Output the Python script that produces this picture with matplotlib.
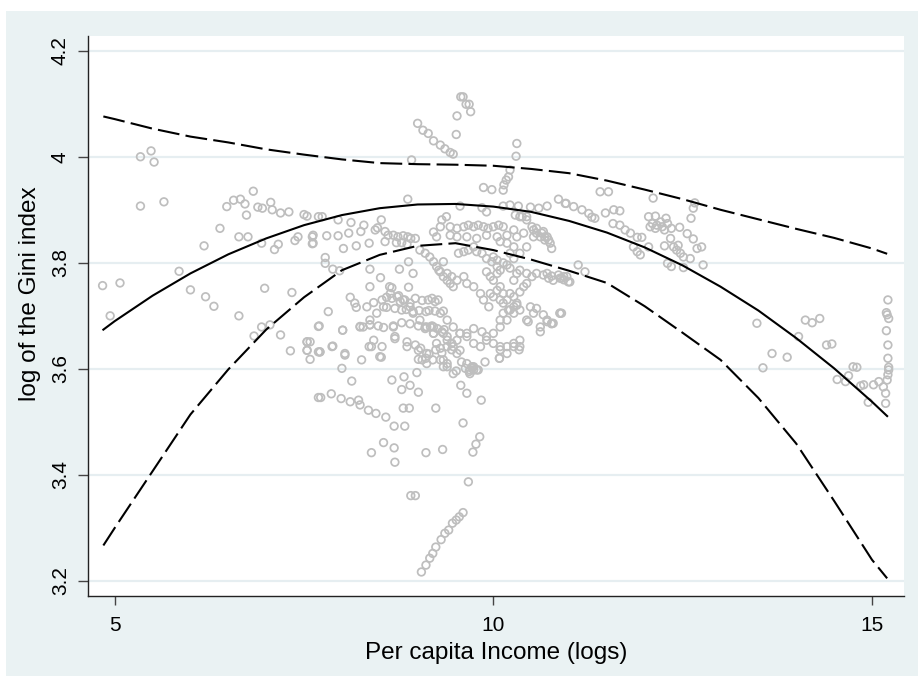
import matplotlib
matplotlib.use("Agg")
import matplotlib.pyplot as plt
from matplotlib.patches import Rectangle

plt.rcParams['font.family'] = ['Liberation Sans', 'DejaVu Sans']

# ---- observations: (log per-capita income, log Gini) ----
low_income = [
    (5.34, 4.000), (5.48, 4.011), (5.52, 3.990), (5.34, 3.907), (5.65, 3.915),
    (4.84, 3.757), (5.07, 3.762), (4.94, 3.700), (5.85, 3.784), (6.00, 3.749),
    (6.20, 3.736), (6.31, 3.718), (6.18, 3.832), (6.39, 3.865), (6.48, 3.906),
    (6.57, 3.918), (6.66, 3.920), (6.72, 3.911), (6.83, 3.935), (6.74, 3.890),
    (6.64, 3.849), (6.76, 3.849), (6.89, 3.905), (6.95, 3.903), (7.06, 3.914),
    (7.08, 3.900), (7.19, 3.894), (7.30, 3.896), (7.50, 3.891), (7.54, 3.888),
    (6.94, 3.837), (7.11, 3.825), (7.16, 3.835), (7.38, 3.842), (7.42, 3.849),
    (7.61, 3.849), (7.61, 3.836), (6.98, 3.752), (7.34, 3.744), (6.64, 3.700),
    (6.84, 3.662), (6.94, 3.679), (7.05, 3.683), (7.19, 3.664), (7.54, 3.651),
    (7.32, 3.634), (7.54, 3.635), (7.58, 3.618), (7.69, 3.680), (7.69, 3.632),
    (7.69, 3.546), (7.69, 3.887),
]

lower_middle = [
    (8.87, 3.920), (7.74, 3.887), (7.95, 3.881), (8.12, 3.876), (8.29, 3.871),
    (8.52, 3.881), (8.44, 3.862), (8.47, 3.866), (7.62, 3.852), (7.62, 3.837),
    (7.80, 3.851), (7.95, 3.851), (8.09, 3.856), (8.25, 3.859), (8.02, 3.827),
    (8.19, 3.832), (8.36, 3.837), (8.57, 3.859), (8.61, 3.852), (8.57, 3.840),
    (8.68, 3.852), (8.74, 3.849), (8.81, 3.851), (8.87, 3.849), (8.91, 3.846),
    (8.97, 3.846), (8.72, 3.838), (8.79, 3.838), (8.86, 3.835), (7.78, 3.810),
    (7.78, 3.799), (7.88, 3.788), (7.97, 3.785), (8.37, 3.788), (8.51, 3.772),
    (8.37, 3.755), (8.63, 3.755), (8.66, 3.753), (8.76, 3.788), (8.88, 3.802),
    (8.94, 3.780), (8.88, 3.754), (8.11, 3.735), (8.17, 3.724), (8.19, 3.716),
    (8.33, 3.717), (8.42, 3.725), (8.53, 3.730), (8.59, 3.735), (8.66, 3.733),
    (8.75, 3.738), (8.77, 3.727), (8.83, 3.730), (8.90, 3.724), (8.97, 3.733),
    (9.06, 3.729), (9.14, 3.730), (9.19, 3.733), (9.23, 3.727), (9.27, 3.730),
    (8.59, 3.716), (8.70, 3.714), (8.79, 3.711), (8.85, 3.712), (8.94, 3.708),
    (9.02, 3.710), (9.11, 3.708), (9.15, 3.710), (9.23, 3.709), (9.34, 3.709),
    (7.82, 3.708), (7.70, 3.681), (8.01, 3.673), (8.24, 3.680), (8.37, 3.683),
    (8.48, 3.681), (8.55, 3.678), (8.68, 3.681), (8.79, 3.687), (8.90, 3.685),
    (9.01, 3.681), (9.10, 3.679), (9.19, 3.681), (9.26, 3.676), (9.35, 3.674),
    (7.58, 3.651), (7.71, 3.632), (7.88, 3.643), (8.04, 3.629), (8.26, 3.617),
    (8.36, 3.642), (8.42, 3.654), (8.53, 3.642), (8.52, 3.622), (8.70, 3.661),
    (8.86, 3.651), (8.97, 3.645), (9.04, 3.639), (9.15, 3.628), (9.11, 3.620),
    (9.20, 3.617), (9.24, 3.636), (9.32, 3.630), (8.00, 3.601), (8.13, 3.577),
    (8.66, 3.579), (8.79, 3.561), (8.82, 3.585), (8.90, 3.569), (8.99, 3.593),
    (9.01, 3.556), (7.72, 3.546), (7.86, 3.553), (7.99, 3.544), (8.11, 3.538),
    (8.22, 3.541), (8.24, 3.532), (8.35, 3.522), (8.45, 3.516), (8.58, 3.509),
    (8.69, 3.492), (8.83, 3.492), (8.81, 3.526), (8.89, 3.526), (9.24, 3.526),
    (8.55, 3.461), (8.39, 3.442), (8.69, 3.451), (8.70, 3.424), (9.11, 3.442),
    (9.33, 3.448), (7.54, 3.651), (7.54, 3.635), (7.71, 3.632), (7.87, 3.642),
    (8.01, 3.673), (8.04, 3.626), (8.24, 3.679), (8.37, 3.683), (8.39, 3.642),
    (8.50, 3.623), (8.68, 3.679), (8.70, 3.657), (8.86, 3.642), (9.01, 3.635),
    (9.12, 3.629), (9.30, 3.617), (9.39, 3.604), (9.47, 3.591),
]

lower_tail = [
    (9.57, 3.569), (9.65, 3.554), (9.84, 3.541), (9.60, 3.498), (9.82, 3.472),
    (9.77, 3.458), (9.73, 3.443), (9.67, 3.387), (8.91, 3.361), (8.97, 3.361),
    (9.60, 3.329), (9.55, 3.321), (9.51, 3.315), (9.46, 3.309), (9.41, 3.296),
    (9.36, 3.290), (9.31, 3.278), (9.24, 3.264), (9.20, 3.252), (9.16, 3.243),
    (9.11, 3.230), (9.05, 3.217),
]

upper_spikes = [
    (9.57, 4.113), (9.60, 4.113), (9.64, 4.099), (9.68, 4.099), (9.70, 4.085),
    (9.52, 4.077), (9.51, 4.042), (9.00, 4.063), (9.07, 4.050), (9.14, 4.044),
    (9.21, 4.030), (9.30, 4.022), (9.36, 4.015), (9.43, 4.008), (9.47, 4.005),
    (8.92, 3.994), (10.31, 4.025), (10.30, 4.001), (10.22, 3.975), (10.20, 3.962),
    (10.17, 3.956), (10.14, 3.947), (10.13, 3.937), (9.87, 3.942), (9.98, 3.938),
    (9.56, 3.907), (9.85, 3.904), (9.91, 3.896), (10.13, 3.907), (10.22, 3.909),
    (10.33, 3.907), (10.49, 3.905), (10.60, 3.903), (10.71, 3.907), (10.86, 3.920),
    (10.95, 3.912),
]

core = [
    (9.38, 3.887), (9.32, 3.881), (9.43, 3.868), (9.52, 3.865), (9.61, 3.868),
    (9.67, 3.871), (9.74, 3.868), (9.80, 3.871), (9.87, 3.868), (9.93, 3.865),
    (10.00, 3.868), (10.07, 3.871), (10.13, 3.868), (10.27, 3.862), (10.35, 3.887),
    (10.44, 3.887), (10.51, 3.868), (10.57, 3.865), (10.66, 3.859), (10.71, 3.849),
    (10.75, 3.837), (10.77, 3.827), (10.29, 3.890), (10.38, 3.887), (10.44, 3.881),
    (10.53, 3.862), (10.57, 3.856), (10.64, 3.856), (10.68, 3.849), (10.73, 3.843),
    (9.43, 3.852), (9.52, 3.849), (9.65, 3.849), (9.78, 3.846), (9.91, 3.852),
    (10.05, 3.849), (10.18, 3.852), (10.31, 3.849), (10.40, 3.856), (9.30, 3.868),
    (9.25, 3.849), (9.21, 3.858),
    (9.03, 3.824), (9.10, 3.818), (9.16, 3.811), (9.21, 3.802), (9.25, 3.793),
    (9.30, 3.783), (9.34, 3.774), (9.39, 3.767), (9.43, 3.761), (9.47, 3.755),
    (9.34, 3.802), (9.28, 3.786), (9.39, 3.780), (9.45, 3.774), (9.52, 3.767),
    (9.61, 3.774), (9.65, 3.761), (9.74, 3.755), (9.83, 3.742), (9.87, 3.730),
    (9.94, 3.717), (10.00, 3.767), (10.05, 3.780), (10.09, 3.786), (10.05, 3.793),
    (9.98, 3.802), (9.91, 3.808), (9.85, 3.818), (9.78, 3.821), (9.74, 3.830),
    (9.67, 3.824), (9.61, 3.821), (9.54, 3.818), (9.91, 3.783), (9.96, 3.774),
    (10.09, 3.755), (10.13, 3.742), (10.18, 3.730), (10.27, 3.767), (10.31, 3.780),
    (10.35, 3.786), (10.44, 3.780), (10.51, 3.774), (10.57, 3.780), (10.66, 3.777),
    (10.73, 3.771), (10.79, 3.767), (10.88, 3.771), (10.97, 3.774), (11.01, 3.764),
    (10.22, 3.818), (10.27, 3.830), (10.18, 3.837), (10.09, 3.840), (10.27, 3.808),
    (10.35, 3.818), (10.44, 3.830), (10.53, 3.849), (10.62, 3.849), (10.68, 3.843),
    (10.00, 3.811), (10.05, 3.805), (10.13, 3.800), (10.18, 3.796), (10.22, 3.790),
    (10.09, 3.730), (10.13, 3.724), (10.00, 3.736), (9.96, 3.742), (10.05, 3.748),
    (10.22, 3.742), (10.27, 3.736), (10.22, 3.711), (10.31, 3.720), (10.35, 3.745),
    (10.40, 3.755), (10.44, 3.761),
    (9.30, 3.705), (9.39, 3.692), (9.47, 3.679), (9.56, 3.667), (9.65, 3.661),
    (9.74, 3.648), (9.83, 3.642), (9.91, 3.654), (10.00, 3.667), (10.09, 3.679),
    (10.18, 3.692), (10.27, 3.705), (10.35, 3.711), (10.44, 3.692), (10.53, 3.705),
    (10.62, 3.679), (10.71, 3.692), (10.79, 3.686), (10.88, 3.705), (9.65, 3.610),
    (9.72, 3.604), (9.74, 3.598), (9.69, 3.591), (10.09, 3.642), (10.18, 3.629),
    (10.27, 3.642), (10.35, 3.654), (9.56, 3.635), (9.47, 3.642), (9.39, 3.654),
    (9.34, 3.667), (9.21, 3.667), (9.12, 3.679), (9.03, 3.692), (8.94, 3.705),
    (8.90, 3.717), (8.81, 3.730), (8.73, 3.736), (8.64, 3.742), (8.55, 3.717),
    (8.46, 3.705), (8.37, 3.692), (8.28, 3.679),
    (9.34, 3.604), (9.51, 3.596), (9.63, 3.601), (9.69, 3.598), (9.72, 3.601),
    (9.78, 3.598), (9.74, 3.604), (9.89, 3.613), (10.08, 3.620), (9.58, 3.613),
    (9.34, 3.617), (9.39, 3.610), (9.45, 3.636), (9.52, 3.629), (9.45, 3.648),
    (9.39, 3.642), (9.30, 3.639), (9.25, 3.648), (9.21, 3.667), (9.17, 3.679),
    (9.10, 3.676), (9.01, 3.618), (9.12, 3.610), (9.06, 3.617),
    (10.09, 3.692), (10.13, 3.705), (10.20, 3.711), (10.27, 3.717), (10.31, 3.724),
    (10.49, 3.717), (10.57, 3.714), (10.66, 3.702), (10.71, 3.689), (10.77, 3.686),
    (10.88, 3.705), (10.62, 3.670), (10.46, 3.689), (10.35, 3.642), (10.27, 3.648),
    (10.18, 3.642), (10.09, 3.636), (10.08, 3.620), (10.00, 3.648), (9.91, 3.661),
    (9.85, 3.670), (9.74, 3.676), (9.65, 3.667), (9.56, 3.667), (9.52, 3.654),
    (9.45, 3.648), (9.39, 3.661), (9.32, 3.670), (9.21, 3.679),
    (9.68, 3.595), (9.80, 3.598), (10.34, 3.636), (10.77, 3.685), (10.71, 3.780),
    (10.77, 3.775), (10.86, 3.777), (10.90, 3.771), (10.93, 3.768),
]

high_income = [
    (11.41, 3.934), (11.52, 3.934), (10.96, 3.912), (11.06, 3.906), (11.17, 3.900),
    (11.26, 3.893), (11.30, 3.886), (11.34, 3.884), (11.48, 3.894), (11.59, 3.900),
    (11.67, 3.898), (11.58, 3.874), (11.67, 3.871), (11.74, 3.862), (11.81, 3.856),
    (11.90, 3.848), (11.96, 3.848), (11.85, 3.830), (11.90, 3.821), (11.94, 3.815),
    (12.05, 3.830), (12.11, 3.922), (12.05, 3.887), (12.14, 3.888), (12.10, 3.874),
    (12.16, 3.871), (12.21, 3.877), (12.23, 3.868), (12.28, 3.884), (12.30, 3.874),
    (12.26, 3.862), (12.35, 3.865), (12.07, 3.868), (12.14, 3.865), (12.34, 3.846),
    (12.26, 3.832), (12.38, 3.830), (12.42, 3.824), (12.47, 3.818), (12.51, 3.811),
    (12.44, 3.833), (12.46, 3.867), (12.56, 3.855), (12.64, 3.845), (12.30, 3.799),
    (12.35, 3.793), (12.51, 3.791), (12.60, 3.808), (12.69, 3.827), (12.75, 3.830),
    (12.77, 3.796), (12.64, 3.903), (12.66, 3.913), (12.61, 3.884), (11.12, 3.796),
    (11.21, 3.783), (10.99, 3.764), (10.93, 3.774), (10.90, 3.705),
    (13.48, 3.686), (13.56, 3.602), (13.68, 3.629), (13.88, 3.622), (14.03, 3.661),
    (14.12, 3.692), (14.21, 3.687), (14.31, 3.695), (14.40, 3.645), (14.47, 3.647),
    (14.54, 3.580), (14.65, 3.576), (14.69, 3.587), (14.75, 3.604), (14.80, 3.603),
    (14.85, 3.568), (14.89, 3.570), (14.95, 3.537), (15.02, 3.570), (15.09, 3.576),
    (15.15, 3.566), (15.18, 3.554), (15.18, 3.535), (15.21, 3.730), (15.19, 3.706),
    (15.20, 3.702), (15.22, 3.695), (15.19, 3.672), (15.21, 3.645), (15.21, 3.620),
    (15.22, 3.603), (15.22, 3.598), (15.21, 3.589), (15.20, 3.579),
]

# ---- quadratic fit and its confidence band ----
fit_income = [4.85, 5.0, 5.5, 6.0, 6.5, 7.0, 7.5, 8.0, 8.5, 9.0, 9.5, 10.0,
              10.5, 11.0, 11.5, 12.0, 12.5, 13.0, 13.5, 14.0, 14.5, 15.0, 15.2]
fit_mid = [3.674, 3.690, 3.738, 3.780, 3.816, 3.846, 3.871, 3.890, 3.903, 3.910,
           3.911, 3.906, 3.896, 3.879, 3.857, 3.829, 3.795, 3.755, 3.710, 3.658,
           3.601, 3.538, 3.511]
fit_upper = [4.076, 4.071, 4.053, 4.038, 4.027, 4.014, 4.004, 3.995, 3.988, 3.986,
             3.985, 3.983, 3.977, 3.969, 3.955, 3.938, 3.920, 3.900, 3.882, 3.864,
             3.847, 3.827, 3.817]
fit_lower = [3.267, 3.300, 3.407, 3.514, 3.599, 3.674, 3.735, 3.786, 3.815, 3.832,
             3.837, 3.824, 3.806, 3.785, 3.762, 3.718, 3.668, 3.617, 3.545, 3.459,
             3.351, 3.240, 3.205]

x_ticks = [5, 10, 15]
y_ticks = [3.2, 3.4, 3.6, 3.8, 4.0, 4.2]
y_tick_labels = ['3.2', '3.4', '3.6', '3.8', '4', '4.2']

points = low_income + lower_middle + lower_tail + upper_spikes + core + high_income
income = [p[0] for p in points]
gini = [p[1] for p in points]

W, H = 918, 676
fig = plt.figure(figsize=(W / 100, H / 100), dpi=100)
fig.patch.set_facecolor('white')
# light graph region behind the plot area
fig.add_artist(Rectangle((6 / W, 0), 1 - 6 / W, 1 - 11 / H,
                         transform=fig.transFigure, facecolor='#EAF2F3',
                         edgecolor='none', zorder=-10))

ax = fig.add_axes([88 / W, 80 / H, 816 / W, 560 / H])
ax.set_facecolor('white')

ax.scatter(income, gini, s=30, facecolors='none', edgecolors='#BEBEBE',
           linewidths=1.25, zorder=2)

ax.plot(fit_income, fit_mid, color='black', lw=1.5, zorder=3)
ax.plot(fit_income, fit_upper, color='black', lw=1.5, dashes=(10.5, 3.0), zorder=3)
ax.plot(fit_income, fit_lower, color='black', lw=1.5, dashes=(10.5, 3.0), zorder=3)

ax.set_xlim(4.6474, 15.4226)
ax.set_ylim(3.1717, 4.2277)

ax.set_xticks(x_ticks)
ax.set_xticklabels([str(t) for t in x_ticks])
ax.set_yticks(y_ticks)
ax.set_yticklabels(y_tick_labels, rotation=90, va='center')

ax.yaxis.grid(True, color='#E6EEF1', lw=1.6, zorder=0)
ax.set_axisbelow(True)

for side in ('top', 'right'):
    ax.spines[side].set_visible(False)
for side in ('left', 'bottom'):
    ax.spines[side].set_color('#222222')
    ax.spines[side].set_linewidth(1.0)

ax.tick_params(axis='y', length=7, width=1, color='#444444', pad=6, labelsize=15)
ax.tick_params(axis='x', length=6.5, width=1, color='#444444', pad=8, labelsize=15)

ax.set_xlabel('Per capita Income (logs)', fontsize=17.5, labelpad=5)
ax.set_ylabel('log of the Gini index', fontsize=17.5, labelpad=4)
ax.yaxis.set_label_coords(-0.058, 0.54)

fig.savefig('out.png', dpi=100)
